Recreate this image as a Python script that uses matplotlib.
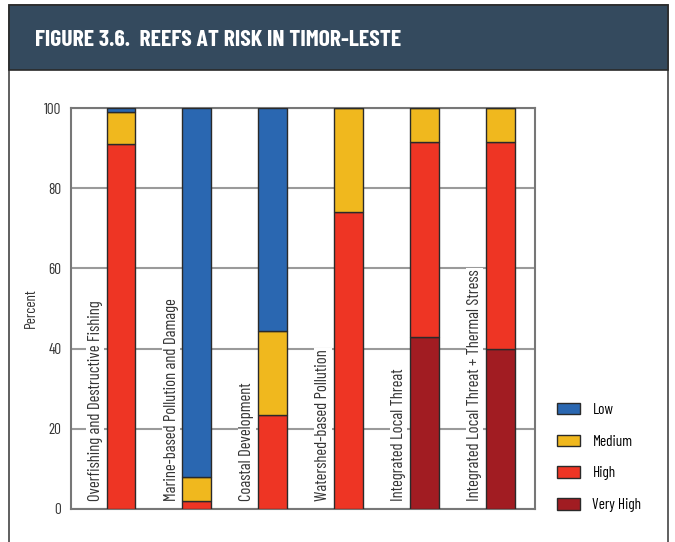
import matplotlib
matplotlib.use("Agg")
import matplotlib.pyplot as plt
from matplotlib.patches import Rectangle, Patch
import numpy as np

plt.rcParams["font.family"] = ["Barlow Condensed", "DejaVu Sans"]

categories = [
    "Overfishing and Destructive Fishing",
    "Marine-based Pollution and Damage",
    "Coastal Development",
    "Watershed-based Pollution",
    "Integrated Local Threat",
    "Integrated Local Threat + Thermal Stress",
]
very_high = [0, 0, 0, 0, 43, 40]
high = [91, 2, 23.5, 74, 48.5, 51.5]
medium = [8, 6, 21, 26, 8.5, 8.5]
low = [1, 92, 55.5, 0, 0, 0]

series = [
    ("Very High", very_high, "#a11c22"),
    ("High", high, "#ee3524"),
    ("Medium", medium, "#f0b81e"),
    ("Low", low, "#2a67b1"),
]

W, H = 675, 542
fig = plt.figure(figsize=(W / 100, H / 100), dpi=100)
fig.patch.set_facecolor("white")

# outer frame and header band
fig.patches.append(Rectangle((9 / W, -0.01), 659 / W, 1 - 5 / H + 0.01,
                             transform=fig.transFigure, facecolor="none",
                             edgecolor="#444444", lw=1.2))
fig.patches.append(Rectangle((9 / W, 1 - 70 / H), 659 / W, 65 / H,
                             transform=fig.transFigure, facecolor="#344a5e",
                             edgecolor="#2a2a2a", lw=1.2))
fig.text(35 / W, 1 - 40 / H, "FIGURE 3.6.  REEFS AT RISK IN TIMOR-LESTE",
         color="white", fontsize=17, fontweight="bold", va="center", ha="left")

ax = fig.add_axes([71 / W, 1 - 509 / H, 464 / W, 401 / H])
x = np.arange(len(categories))
bottom = np.zeros(len(categories))
for name, vals, col in series:
    vals = np.array(vals, dtype=float)
    ax.bar(x, vals, width=0.38, bottom=bottom, color=col,
           edgecolor="#2a2a2a", linewidth=1, zorder=3)
    bottom += vals

# category names sit upright beside each bar, masking the gridlines
for xi, label in zip(x, categories):
    ax.text(xi - 0.34, 2, label, rotation=90, ha="center", va="bottom",
            fontsize=12, color="#333333", zorder=4,
            bbox=dict(facecolor="white", edgecolor="none", pad=1.0))

ax.set_xlim(-0.66, 5.46)
ax.set_ylim(0, 100)
ax.set_yticks([0, 20, 40, 60, 80, 100])
ax.set_xticks([])
ax.tick_params(axis="y", length=0, pad=7, labelsize=11, colors="#333333")
ax.yaxis.grid(True, color="#9a9a9a", lw=1.5, zorder=1)
for s in ax.spines.values():
    s.set_color("#777777")
    s.set_linewidth(1.5)
ax.set_ylabel("Percent", fontsize=11, color="#333333", labelpad=4)

handles = [Patch(facecolor=col, edgecolor="#2a2a2a", label=name)
           for name, _, col in series[::-1]]
ax.legend(handles=handles, loc="lower left", bbox_to_anchor=(1.035, -0.023),
          frameon=False, fontsize=11, handlelength=1.5, handleheight=0.8,
          labelspacing=1.15, handletextpad=0.8, borderaxespad=0)

fig.savefig("out.png", dpi=100)
